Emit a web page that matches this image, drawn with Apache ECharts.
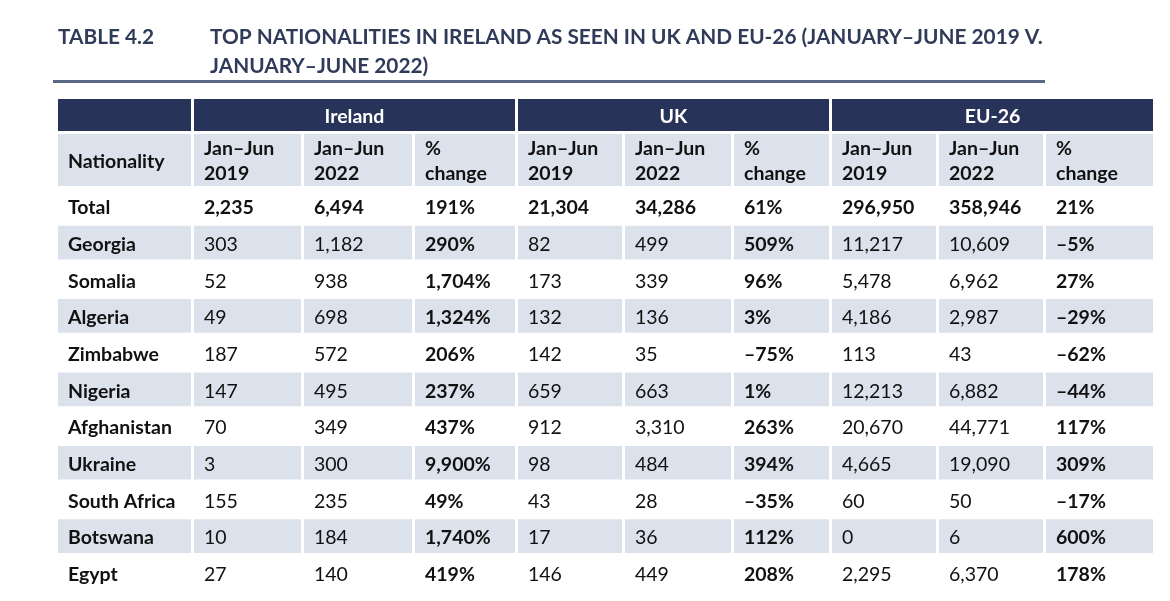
<!DOCTYPE html>
<html>
<head>
<meta charset="utf-8">
<script src="https://cdn.jsdelivr.net/npm/echarts@6/dist/echarts.min.js"></script>
<style>
  html, body { margin: 0; padding: 0; background: #fff; }
  #tableChart { width: 1170px; height: 601px; }
</style>
</head>
<body>
<div id="tableChart"></div>
<script>
// Datos de la tabla
const nationalities = ['Total', 'Georgia', 'Somalia', 'Algeria', 'Zimbabwe', 'Nigeria', 'Afghanistan', 'Ukraine', 'South Africa', 'Botswana', 'Egypt'];
const ireland2019 = [2235, 303, 52, 49, 187, 147, 70, 3, 155, 10, 27];
const ireland2022 = [6494, 1182, 938, 698, 572, 495, 349, 300, 235, 184, 140];
const irelandChange = [191, 290, 1704, 1324, 206, 237, 437, 9900, 49, 1740, 419];
const uk2019 = [21304, 82, 173, 132, 142, 659, 912, 98, 43, 17, 146];
const uk2022 = [34286, 499, 339, 136, 35, 663, 3310, 484, 28, 36, 449];
const ukChange = [61, 509, 96, 3, -75, 1, 263, 394, -35, 112, 208];
const eu2019 = [296950, 11217, 5478, 4186, 113, 12213, 20670, 4665, 60, 0, 2295];
const eu2022 = [358946, 10609, 6962, 2987, 43, 6882, 44771, 19090, 50, 6, 6370];
const euChange = [21, -5, 27, -29, -62, -44, 117, 309, -17, 600, 178];
const groups = ['Ireland', 'UK', 'EU-26'];
const periods = ['Jan\u2013Jun\n2019', 'Jan\u2013Jun\n2022', '%\nchange'];

// Estilos y medidas
const FONT = 'Lato';
const NAVY = '#28335a';
const SHADE = '#dce2ec';
const INK = '#111111';
const GAP = 3;
const colWidths = [136, 110, 111, 103, 107, 109, 98, 107, 107, 110];
const colEdges = [0];
colWidths.forEach(w => colEdges.push(colEdges[colEdges.length - 1] + w));
const tableWidth = colEdges[colEdges.length - 1];
const headerRows = [{ top: 0, h: 32 }, { top: 35, h: 52 }];
const headerHeight = 90;

function fmtNum(v) {
    return (v < 0 ? '\u2013' : '') + Math.abs(v).toLocaleString('en-US');
}
function fmtPct(v) {
    return fmtNum(v) + '%';
}

const columns = [ireland2019, ireland2022, irelandChange, uk2019, uk2022, ukChange, eu2019, eu2022, euChange];

// Celdas del cuerpo
const bodyCells = [];
nationalities.forEach((name, r) => {
    bodyCells.push({ col: 0, row: r, text: name, bold: true });
    columns.forEach((vals, c) => {
        const isPct = c % 3 === 2;
        bodyCells.push({
            col: c + 1,
            row: r,
            text: isPct ? fmtPct(vals[r]) : fmtNum(vals[r]),
            bold: isPct || r === 0
        });
    });
});

// Celdas de cabecera
const headerCells = [{ x0: colEdges[0], x1: colEdges[1], row: 0, text: '', fill: NAVY }];
groups.forEach((g, i) => {
    headerCells.push({ x0: colEdges[1 + 3 * i], x1: colEdges[4 + 3 * i], row: 0, text: g, fill: NAVY, color: '#ffffff', center: true });
});
headerCells.push({ x0: colEdges[0], x1: colEdges[1], row: 1, text: 'Nationality', fill: SHADE, color: INK });
for (let i = 0; i < 9; i++) {
    headerCells.push({ x0: colEdges[i + 1], x1: colEdges[i + 2], row: 1, text: periods[i % 3], fill: SHADE, color: INK });
}

function renderHeader(params, api) {
    const c = headerCells[params.dataIndex];
    const rowDef = headerRows[c.row];
    const p0 = api.coord([c.x0, rowDef.top]);
    const p1 = api.coord([c.x1 - GAP, rowDef.top + rowDef.h]);
    const w = p1[0] - p0[0];
    const h = p1[1] - p0[1];
    return {
        type: 'group',
        children: [
            { type: 'rect', shape: { x: p0[0], y: p0[1], width: w, height: h }, style: { fill: c.fill } },
            {
                type: 'text',
                x: c.center ? p0[0] + w / 2 : p0[0] + 10,
                y: p0[1] + h / 2 + 1.5,
                style: {
                    text: c.text,
                    fill: c.color,
                    font: 'bold 19.5px ' + FONT,
                    align: c.center ? 'center' : 'left',
                    verticalAlign: 'middle',
                    lineHeight: 25
                }
            }
        ]
    };
}

function renderBody(params, api) {
    const c = bodyCells[params.dataIndex];
    const center = api.coord([colEdges[c.col], c.row]);
    const right = api.coord([colEdges[c.col + 1] - GAP, c.row]);
    const band = api.size([0, 1])[1];
    const top = center[1] - band / 2;
    const h = band - GAP;
    const children = [];
    if (c.row % 2 === 1) {
        children.push({ type: 'rect', shape: { x: center[0], y: top, width: right[0] - center[0], height: h }, style: { fill: SHADE } });
    }
    children.push({
        type: 'text',
        x: center[0] + 10,
        y: top + h / 2 + 2,
        style: {
            text: c.text,
            fill: INK,
            font: (c.bold ? 'bold ' : '') + '19.5px ' + FONT,
            align: 'left',
            verticalAlign: 'middle'
        }
    });
    return { type: 'group', children: children };
}

const myChart = echarts.init(document.getElementById('tableChart'));

const titleStyle = { fontFamily: FONT, fontSize: 20.8, fontWeight: 'bold', color: '#2f3b59', lineHeight: 29 };

const option = {
    animation: false,
    backgroundColor: '#ffffff',
    title: [
        {
            text: 'TABLE 4.2',
            left: 58,
            top: 23,
            padding: 0,
            textStyle: titleStyle
        },
        {
            text: 'TOP NATIONALITIES IN IRELAND AS SEEN IN UK AND EU-26 (JANUARY\u2013JUNE 2019 V.\nJANUARY\u2013JUNE 2022)',
            left: 210,
            top: 23,
            padding: 0,
            textStyle: titleStyle
        }
    ],
    graphic: [
        {
            type: 'line',
            shape: { x1: 53, y1: 81.5, x2: 1045, y2: 81.5 },
            style: { stroke: '#5a6986', lineWidth: 3 }
        }
    ],
    grid: [
        { left: 58, top: 99, width: tableWidth, height: headerHeight },
        { left: 58, top: 99 + headerHeight, width: tableWidth, height: 11 * 36.7 }
    ],
    xAxis: [
        { type: 'value', gridIndex: 0, min: 0, max: tableWidth, show: false },
        { type: 'value', gridIndex: 1, min: 0, max: tableWidth, show: false }
    ],
    yAxis: [
        { type: 'value', gridIndex: 0, min: 0, max: headerHeight, inverse: true, show: false },
        { type: 'category', gridIndex: 1, data: nationalities, inverse: true, show: false }
    ],
    series: [
        {
            type: 'custom',
            xAxisIndex: 0,
            yAxisIndex: 0,
            clip: false,
            silent: true,
            renderItem: renderHeader,
            data: headerCells.map(c => [c.x0, headerRows[c.row].top])
        },
        {
            type: 'custom',
            xAxisIndex: 1,
            yAxisIndex: 1,
            clip: false,
            silent: true,
            renderItem: renderBody,
            data: bodyCells.map(c => [colEdges[c.col], c.row])
        }
    ]
};

myChart.setOption(option);

window.addEventListener('resize', function() {
    myChart.resize();
});
</script>
</body>
</html>
